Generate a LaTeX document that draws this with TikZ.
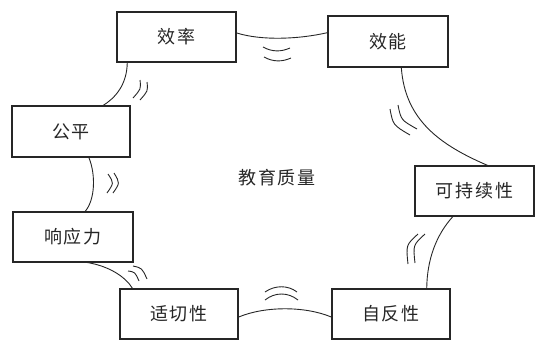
\documentclass[tikz,border=0pt]{standalone}
\usepackage{fontspec}
\newfontfamily\cjk[LetterSpace=10]{Noto Sans CJK SC}
\usetikzlibrary{calc}
\tikzset{
  box/.style={draw=black!85, line width=1.1pt, fill=white, inner sep=0pt,
    font=\cjk\fontsize{18}{21}\selectfont, text=black!85},
  link/.style={draw=black!85, line width=0.9pt},
  wave/.style={draw=black!85, line width=0.9pt},
}
\begin{document}
\begin{tikzpicture}[x=1pt,y=-1pt]
\useasboundingbox (0,0) rectangle (538,341);
% boxes
\node[box, minimum width=119pt, minimum height=50pt] (a) at (176.5,37) {效率};
\node[box, minimum width=120pt, minimum height=51pt] (b) at (388,41.5) {效能};
\node[box, minimum width=118pt, minimum height=51pt] (c) at (71,131.5) {公平};
\node[box, minimum width=120pt, minimum height=50pt] (d) at (73,237) {响应力};
\node[box, minimum width=118pt, minimum height=50pt] (e) at (179,314) {适切性};
\node[box, minimum width=118pt, minimum height=50pt] (f) at (391,314) {自反性};
\node[box, minimum width=119pt, minimum height=50pt] (g) at (474.5,191) {可持续性};
\node[font=\cjk\fontsize{18}{21}\selectfont, text=black!85] (center) at (277,178) {教育质量};
% connectors
\draw[link] ($(a.north east)!0.42!(a.south east)$) .. controls (262,41) and (300,39) .. ($(b.north west)!0.33!(b.south west)$);
\draw[link] ($(a.south west)!0.09!(a.south east)$) .. controls (127,85) and (115,98) .. ($(c.north west)!0.77!(c.north east)$);
\draw[link] ($(c.south west)!0.65!(c.south east)$) .. controls (96,175) and (95,200) .. ($(d.north west)!0.6!(d.north east)$);
\draw[link] ($(d.south west)!0.62!(d.south east)$) .. controls (108,266) and (125,276) .. ($(e.north west)!0.11!(e.north east)$);
\draw[link] ($(e.north east)!0.56!(e.south east)$) .. controls (265,306) and (305,306) .. ($(f.north west)!0.56!(f.south west)$);
\draw[link] ($(f.north west)!0.8!(f.north east)$) .. controls (427,260) and (436,235) .. ($(g.south west)!0.32!(g.south east)$);
\draw[link] ($(b.south west)!0.61!(b.south east)$) .. controls (405,120) and (440,145) .. ($(g.north west)!0.61!(g.north east)$);
% wave marks
\draw[wave] (263,47) .. controls (272,52) and (281,52) .. (290,48);
\draw[wave] (264,57) .. controls (273,62) and (282,62) .. (291,58);
\draw[wave] (140,80) .. controls (141,89) .. (133,98);
\draw[wave] (147,82) .. controls (148,91) .. (140,100);
\draw[wave] (108,174) .. controls (114,183) .. (107,193);
\draw[wave] (114,173) .. controls (120,183) .. (113,193);
\draw[wave] (128,271) .. controls (135,272) .. (139,281);
\draw[wave] (133,266) .. controls (142,268) .. (147,279);
\draw[wave] (265,292) .. controls (275,285) and (288,285) .. (297,292);
\draw[wave] (265,300) .. controls (275,292) and (288,292) .. (298,300);
\draw[wave] (418,234) .. controls (406,245) .. (408,264);
\draw[wave] (425,234) .. controls (413,245) .. (415,263);
\draw[wave] (390,109) .. controls (393,125) .. (410,135);
\draw[wave] (398,105) .. controls (401,120) .. (417,129);
\end{tikzpicture}
\end{document}
